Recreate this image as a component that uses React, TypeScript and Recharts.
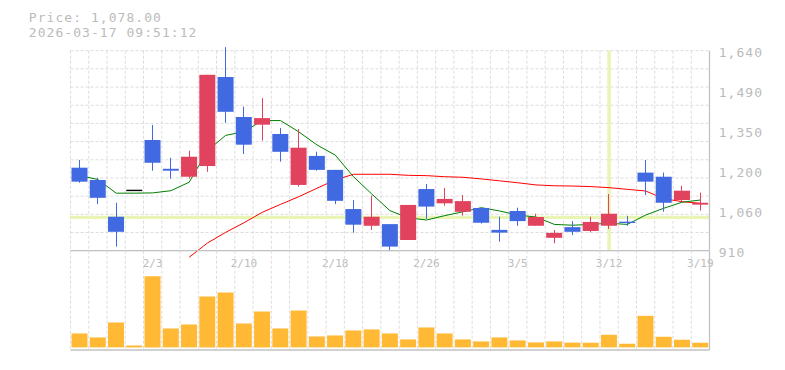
import {
  ComposedChart,
  Bar,
  Line,
  XAxis,
  YAxis,
  CartesianGrid,
  ReferenceLine,
} from "recharts";

// trading days shown on the chart
const DATES = [
  "1/28", "1/29", "1/30", "2/2", "2/3", "2/4", "2/5", "2/6", "2/9", "2/10",
  "2/12", "2/13", "2/16", "2/17", "2/18", "2/19", "2/20", "2/24", "2/25", "2/26",
  "2/27", "3/2", "3/3", "3/4", "3/5", "3/6", "3/9", "3/10", "3/11", "3/12",
  "3/13", "3/16", "3/17", "3/18", "3/19",
];

const OPEN = [
  1213, 1168, 1034, 1130, 1314, 1209, 1180, 1219, 1544, 1398,
  1370, 1336, 1150, 1256, 1205, 1062, 1001, 1007, 949, 1135,
  1083, 1052, 1066, 986, 1055, 1001, 957, 996, 982, 1001,
  1016, 1195, 1180, 1095, 1078,
];
const HIGH = [
  1241, 1176, 1085, 1131, 1369, 1249, 1275, 1552, 1653, 1436,
  1467, 1358, 1354, 1271, 1205, 1095, 1111, 1007, 1077, 1153,
  1139, 1113, 1066, 1034, 1067, 1045, 986, 1018, 1034, 1117,
  1037, 1241, 1195, 1147, 1122,
];
const LOW = [
  1158, 1080, 925, 1129, 1202, 1173, 1173, 1198, 1377, 1263,
  1312, 1235, 1144, 1202, 1080, 976, 986, 908, 949, 1026,
  1074, 1038, 1009, 943, 1001, 1001, 937, 967, 977, 989,
  1001, 1113, 1052, 1087, 1056,
];
const CLOSE = [
  1162, 1103, 979, 1130, 1231, 1202, 1253, 1552, 1417, 1297,
  1394, 1271, 1286, 1205, 1092, 1005, 1034, 925, 1077, 1071,
  1099, 1091, 1012, 976, 1018, 1033, 975, 979, 1015, 1045,
  1011, 1162, 1085, 1129, 1085,
];

// moving averages (short = green, long = red)
const MA_SHORT = [
  1184, 1170, 1120, 1120, 1121, 1129, 1160, 1275, 1331, 1344,
  1385, 1385, 1344, 1296, 1259, 1180, 1117, 1056, 1030, 1022,
  1038, 1052, 1067, 1055, 1040, 1033, 1006, 1003, 1006, 1010,
  1006, 1040, 1065, 1087, 1095,
];
const MA_LONG = [
  null, null, null, null, null, null, 886, 938, 977, 1012,
  1050, 1079, 1107, 1138, 1168, 1189, 1189, 1189, 1185, 1184,
  1180, 1178, 1172, 1165, 1158, 1150, 1147, 1146, 1144, 1140,
  1134, 1128, 1100, 1089, 1083,
];

// volume, thousand shares
const VOLUME = [
  140, 100, 250, 20, 713, 190, 230, 510, 550, 240,
  360, 190, 370, 110, 120, 170, 180, 140, 80, 200,
  140, 80, 60, 100, 70, 50, 60, 48, 47, 127,
  37, 317, 107, 77, 47,
];

const X_TICKS = ["2/3", "2/10", "2/18", "2/26", "3/5", "3/12", "3/19"];
const Y_TICKS = [910, 1056, 1202, 1348, 1494, 1640];
const Y_LABELS = ["910", "1,060", "1,200", "1,350", "1,490", "1,640"];
const Y_MIN = 910;
const Y_MAX = 1640;
const CROSS_DATE = "3/12";
const CROSS_PRICE = 1032;

const UP = "#E1435F";
const DOWN = "#4169E1";
const TEXT = "#bbbbbb";
const AXIS = "#c2c2c2";
const GRID = "#dcdcdc";
const CROSS = "#E8F5B4";
const MONO = "'DejaVu Sans Mono', monospace";

const rows = DATES.map((date, i) => ({
  date,
  open: OPEN[i],
  high: HIGH[i],
  low: LOW[i],
  close: CLOSE[i],
  range: [LOW[i], HIGH[i]],
  maShort: MA_SHORT[i],
  maLong: MA_LONG[i],
  vol: VOLUME[i],
}));

const slots = DATES.length;

const vGrid = ({ offset }: any) =>
  Array.from({ length: slots + 1 }, (_, k) => offset.left + (k * offset.width) / slots);
const hGrid = ({ offset }: any) =>
  Array.from({ length: 12 }, (_, k) => offset.top + (k * offset.height) / 11);

function Candle(props: any) {
  const { x, y, width, height, payload, background } = props;
  const { open, close, high, low } = payload;
  let py: (v: number) => number;
  if (background && background.height) {
    py = (v) => background.y + ((Y_MAX - v) / (Y_MAX - Y_MIN)) * background.height;
  } else {
    py = (v) => y + ((high - v) / (high - low || 1)) * height;
  }
  const color = close > open ? UP : close < open ? DOWN : "#000";
  const cx = Math.floor(x + width / 2) + 0.5;
  const top = py(Math.max(open, close));
  const bot = py(Math.min(open, close));
  return (
    <g>
      <line x1={cx} x2={cx} y1={py(high)} y2={py(low)} stroke={color} strokeWidth={1} />
      {open === close ? (
        <line x1={x} x2={x + width} y1={top} y2={top} stroke={color} strokeWidth={1.4} />
      ) : (
        <rect x={x} y={top} width={width} height={Math.max(bot - top, 1)} fill={color} />
      )}
    </g>
  );
}

const XTick = ({ x, y, payload }: any) => (
  <text x={x} y={y + 16} textAnchor="middle" fontFamily={MONO} fontSize={11} fill={TEXT}>
    {payload.value}
  </text>
);

const YTick = ({ x, y, index }: any) => (
  <text x={x + 9.2} y={y + 6.6} textAnchor="start" fontFamily={MONO} fontSize={13} letterSpacing={1.05} fill={TEXT}>
    {Y_LABELS[index]}
  </text>
);

export default function App() {
  return (
    <div style={{ position: "fixed", left: 0, top: 0, width: 785, height: 370, background: "#fff" }}>
      <style>{`.price-chart [clip-path]{clip-path:none !important;}`}</style>

      <div className="price-chart" style={{ position: "absolute", left: 0, top: 0 }}>
        <ComposedChart
          width={785}
          height={271}
          data={rows}
          margin={{ top: 50.7, right: 15.5, left: 70.5, bottom: 0.3 }}
        >
          <CartesianGrid
            stroke={GRID}
            strokeDasharray="3 2"
            verticalCoordinatesGenerator={vGrid}
            horizontalCoordinatesGenerator={hGrid}
          />
          <XAxis
            dataKey="date"
            ticks={X_TICKS}
            interval={0}
            tickLine={false}
            tickSize={0}
            tickMargin={0}
            height={20}
            axisLine={{ stroke: AXIS, strokeWidth: 1.3 }}
            tick={XTick}
          />
          <YAxis
            orientation="right"
            type="number"
            domain={[Y_MIN, Y_MAX]}
            allowDataOverflow
            ticks={Y_TICKS}
            interval={0}
            width={60}
            tickLine={false}
            tickSize={0}
            tickMargin={0}
            axisLine={{ stroke: AXIS, strokeWidth: 1.3 }}
            tick={YTick}
          />
          <ReferenceLine x={CROSS_DATE} stroke={CROSS} strokeWidth={3.5} zIndex={-60} />
          <ReferenceLine y={CROSS_PRICE} stroke={CROSS} strokeWidth={3.3} zIndex={-60} />
          <Line
            dataKey="maLong"
            type="linear"
            stroke="#ff0000"
            strokeWidth={1}
            dot={false}
            activeDot={false}
            isAnimationActive={false}
            zIndex={350}
          />
          <Line
            dataKey="maShort"
            type="linear"
            stroke="#008000"
            strokeWidth={1}
            dot={false}
            activeDot={false}
            isAnimationActive={false}
            zIndex={350}
          />
          <Bar
            dataKey="range"
            barSize={16}
            shape={Candle}
            isAnimationActive={false}
            zIndex={450}
          />
        </ComposedChart>
      </div>

      <div style={{ position: "absolute", left: 0, top: 250 }}>
        <ComposedChart
          width={785}
          height={101}
          data={rows}
          margin={{ top: 0.7, right: 15.5, left: 70.5, bottom: 0 }}
        >
          <CartesianGrid
            stroke={GRID}
            strokeDasharray="3 2"
            horizontal={false}
            verticalCoordinatesGenerator={vGrid}
          />
          <XAxis
            dataKey="date"
            tick={false}
            tickLine={false}
            height={1}
            axisLine={{ stroke: AXIS, strokeWidth: 1.3 }}
          />
          <YAxis
            orientation="right"
            type="number"
            domain={[0, 970]}
            padding={{ top: 0, bottom: 2.6 }}
            width={60}
            tick={false}
            tickLine={false}
            axisLine={{ stroke: AXIS, strokeWidth: 1.3 }}
          />
          <Bar dataKey="vol" barSize={16} fill="#FFB934" isAnimationActive={false} />
        </ComposedChart>
      </div>

      <svg width={785} height={45} style={{ position: "absolute", left: 0, top: 0 }}>
        <text x={28.8} y={22} fontFamily={MONO} fontSize={13} letterSpacing={1.05} fill={TEXT}>
          Price: 1,078.00
        </text>
        <text x={28.8} y={37.3} fontFamily={MONO} fontSize={13} letterSpacing={1.05} fill={TEXT}>
          2026-03-17 09:51:12
        </text>
      </svg>
    </div>
  );
}
